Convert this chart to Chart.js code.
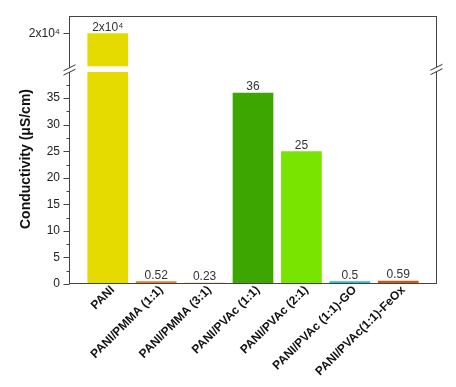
<!DOCTYPE html>
<html>
<head>
<meta charset="utf-8">
<script src="https://cdn.jsdelivr.net/npm/chart.js@4.4.1/dist/chart.umd.min.js"></script>
<style>
  html, body { margin: 0; padding: 0; background: #fff; }
  #wrap { width: 456px; height: 387px; position: relative; }
</style>
</head>
<body>
<div id="wrap"><canvas id="c" width="456" height="387"></canvas></div>
<script>
// ---- data ----
const categories = [
  'PANI',
  'PANI/PMMA (1:1)',
  'PANI/PMMA (3:1)',
  'PANI/PVAc (1:1)',
  'PANI/PVAc (2:1)',
  'PANI/PVAc (1:1)-GO',
  'PANI/PVAc(1:1)-FeOx'
];
const conductivity = [20000, 0.52, 0.23, 36, 25, 0.5, 0.59];
const barColors = ['#E6DB00', '#F07828', '#E6A032', '#3DA600', '#78E400', '#1EC3CF', '#C85A12'];
const lowerMajorTicks = [0, 5, 10, 15, 20, 25, 30, 35];
const lowerMinorTicks = [2.5, 7.5, 12.5, 17.5, 22.5, 27.5, 32.5, 37.5];
const upperTicks = [20000];
const breakValue = 10000; // values above this are shown in the upper (broken) segment
const axisTitle = 'Conductivity (\u03BCS/cm)';

const FONT = '"Liberation Sans", Arial, sans-serif';
const SUP = {'0':'\u2070','1':'\u00B9','2':'\u00B2','3':'\u00B3','4':'\u2074','5':'\u2075','6':'\u2076','7':'\u2077','8':'\u2078','9':'\u2079'};
function fmt(v) {
  if (v >= breakValue) {
    const e = Math.floor(Math.log10(v));
    const m = Math.round(v / Math.pow(10, e) * 10) / 10;
    return m + 'x10' + String(e).split('').map(d => SUP[d]).join('');
  }
  return String(v);
}

const xs = categories.map((_, i) => i);
const lowerData = conductivity.map((v, i) => ({x: i, y: v}));
const upperData = conductivity.map((v, i) => ({x: i, y: v >= breakValue ? v : null}));

const decor = {
  id: 'decor',
  afterDatasetsDraw(chart) {
    const ctx = chart.ctx;
    const a = chart.chartArea;
    const yu = chart.scales.y2;
    const bY = yu.bottom; // boundary between segments
    ctx.save();
    // gap in the broken bar
    ctx.fillStyle = '#fff';
    ctx.fillRect(a.left + 1, bY - 3.2, a.right - a.left - 2, 5.7);
    // value labels
    ctx.fillStyle = '#333';
    ctx.font = '12px ' + FONT;
    ctx.textAlign = 'center';
    ctx.textBaseline = 'alphabetic';
    const metaL = chart.getDatasetMeta(0);
    const metaU = chart.getDatasetMeta(1);
    conductivity.forEach((v, i) => {
      const el = v >= breakValue ? metaU.data[i] : metaL.data[i];
      ctx.fillText(fmt(v), el.x, el.y - 2.5);
    });
    ctx.restore();
  },
  afterDraw(chart) {
    const ctx = chart.ctx;
    const a = chart.chartArea;
    const yl = chart.scales.y;
    const yu = chart.scales.y2;
    const bY = yu.bottom;
    ctx.save();
    // frame
    ctx.strokeStyle = '#444';
    ctx.lineWidth = 1;
    ctx.strokeRect(Math.round(a.left) + 0.5, Math.round(a.top) + 0.5,
      Math.round(a.right) - Math.round(a.left) - 1, Math.round(a.bottom) - Math.round(a.top) - 1);
    // ticks on left axis
    const L = Math.round(a.left) + 0.5;
    ctx.beginPath();
    lowerMajorTicks.forEach(t => {
      const y = Math.round(yl.getPixelForValue(t)) + 0.5;
      ctx.moveTo(L - 6, y); ctx.lineTo(L, y);
    });
    upperTicks.forEach(t => {
      const y = Math.round(yu.getPixelForValue(t)) + 0.5;
      ctx.moveTo(L - 6, y); ctx.lineTo(L, y);
    });
    lowerMinorTicks.forEach(t => {
      const y = Math.round(yl.getPixelForValue(t)) + 0.5;
      ctx.moveTo(L - 3, y); ctx.lineTo(L, y);
    });
    ctx.stroke();
    // break marks
    function brk(cx, cy) {
      const w = 6, h = 3, g = 2.2;
      ctx.fillStyle = '#fff';
      ctx.beginPath();
      ctx.moveTo(cx - w, cy - g + h); ctx.lineTo(cx + w, cy - g - h);
      ctx.lineTo(cx + w, cy + g - h); ctx.lineTo(cx - w, cy + g + h);
      ctx.closePath(); ctx.fill();
      ctx.strokeStyle = '#333';
      ctx.beginPath();
      ctx.moveTo(cx - w, cy - g + h); ctx.lineTo(cx + w, cy - g - h);
      ctx.moveTo(cx - w, cy + g + h); ctx.lineTo(cx + w, cy + g - h);
      ctx.stroke();
    }
    brk(L, bY + 0.5);
    brk(Math.round(a.right) - 0.5, bY);
    // axis title
    ctx.save();
    ctx.translate(26, 159);
    ctx.rotate(-Math.PI / 2);
    ctx.fillStyle = '#111';
    ctx.font = 'bold 14px ' + FONT;
    ctx.textAlign = 'center';
    ctx.textBaseline = 'middle';
    ctx.fillText(axisTitle, 0, 0);
    ctx.restore();
    ctx.restore();
  }
};

new Chart(document.getElementById('c'), {
  type: 'bar',
  data: {
    datasets: [
      { data: lowerData, yAxisID: 'y', backgroundColor: barColors, borderWidth: 0 },
      { data: upperData, yAxisID: 'y2', backgroundColor: barColors, borderWidth: 0 }
    ]
  },
  plugins: [decor],
  options: {
    responsive: false,
    animation: false,
    devicePixelRatio: 1,
    layout: { padding: { left: 0, right: 19, top: 12.5, bottom: 0 } },
    plugins: { legend: { display: false }, tooltip: { enabled: false } },
    datasets: { bar: { grouped: false, categoryPercentage: 1, barPercentage: 0.84 } },
    scales: {
      x: {
        type: 'linear',
        offset: false,
        min: -0.8,
        max: 6.8,
        afterBuildTicks: s => { s.ticks = xs.map(v => ({value: v})); },
        afterFit: s => { s.height = 103; },
        grid: { display: false, drawTicks: false },
        border: { display: false },
        ticks: {
          autoSkip: false,
          maxRotation: 45, minRotation: 45,
          padding: -1,
          labelOffset: 5,
          color: '#111',
          font: { family: FONT, size: 12, weight: 'bold' },
          callback: v => categories[v]
        }
      },
      y: {
        type: 'linear',
        position: 'left',
        stack: 'v',
        stackWeight: 217.5,
        min: 0,
        max: 40.4,
        afterBuildTicks: s => { s.ticks = lowerMajorTicks.map(v => ({value: v})); },
        afterFit: s => { s.width = 69; },
        grid: { display: false, drawTicks: false },
        border: { display: false },
        ticks: {
          padding: 9,
          color: '#222',
          font: { family: FONT, size: 12 }
        }
      },
      y2: {
        type: 'linear',
        position: 'left',
        stack: 'v',
        stackWeight: 54,
        offset: false,
        min: 19000,
        max: 20474,
        afterBuildTicks: s => { s.ticks = upperTicks.map(v => ({value: v})); },
        afterFit: s => { s.width = 69; },
        grid: { display: false, drawTicks: false },
        border: { display: false },
        ticks: {
          padding: 9,
          color: '#222',
          font: { family: FONT, size: 12 },
          callback: v => fmt(v)
        }
      }
    }
  }
});
</script>
</body>
</html>
